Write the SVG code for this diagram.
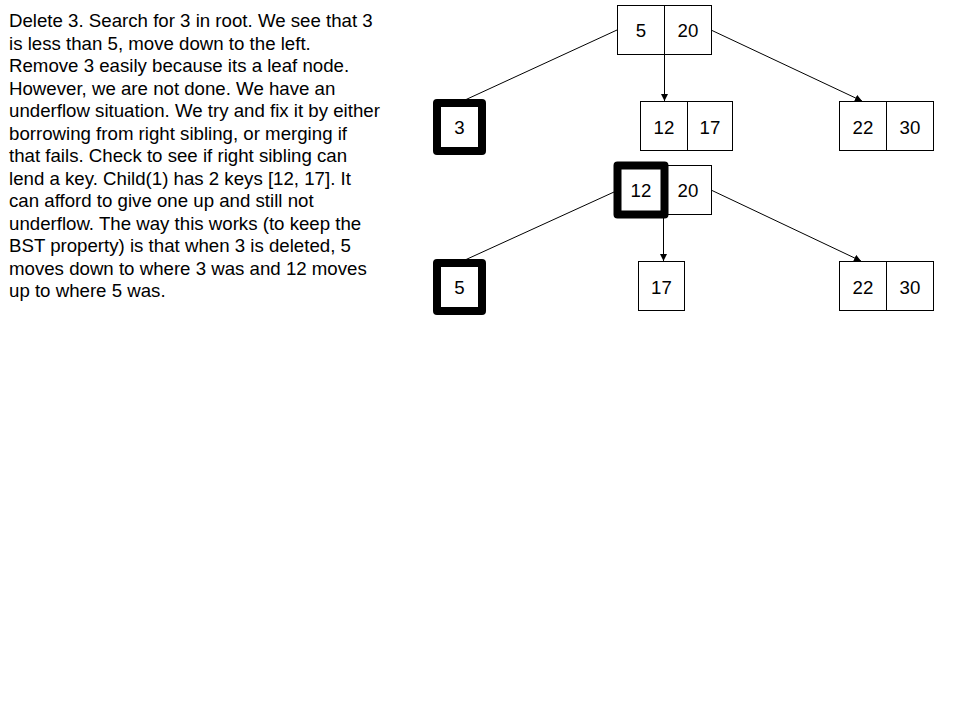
<svg xmlns="http://www.w3.org/2000/svg" width="960" height="720" viewBox="0 0 960 720">
<style>
.box{fill:#fff;stroke:#000;stroke-width:1}
.thick{fill:none;stroke:#000;stroke-width:8;stroke-linejoin:round}
.num{font-family:"Liberation Sans",Arial,sans-serif;font-size:18.67px;fill:#000;text-anchor:middle;dominant-baseline:central}
.txt{font-family:"Liberation Sans",Arial,sans-serif;font-size:18.67px;fill:#000}
.edge{stroke:#000;stroke-width:1;fill:none}
</style>
<defs>
<marker id="arr" markerWidth="8" markerHeight="8" refX="7" refY="3.5" orient="auto" markerUnits="userSpaceOnUse">
<path d="M0,0 L7,3.5 L0,7 Z" fill="#000"/>
</marker>
</defs>
<rect width="960" height="720" fill="#fff"/>
<text class="txt" x="9" y="27">
<tspan x="9" y="27">Delete 3. Search for 3 in root. We see that 3</tspan>
<tspan x="9" y="49.5">is less than 5, move down to the left.</tspan>
<tspan x="9" y="72">Remove 3 easily because its a leaf node.</tspan>
<tspan x="9" y="94.5">However, we are not done. We have an</tspan>
<tspan x="9" y="117">underflow situation. We try and fix it by either</tspan>
<tspan x="9" y="139.5">borrowing from right sibling, or merging if</tspan>
<tspan x="9" y="162">that fails. Check to see if right sibling can</tspan>
<tspan x="9" y="184.5">lend a key. Child(1) has 2 keys [12, 17]. It</tspan>
<tspan x="9" y="207">can afford to give one up and still not</tspan>
<tspan x="9" y="229.5">underflow. The way this works (to keep the</tspan>
<tspan x="9" y="252">BST property) is that when 3 is deleted, 5</tspan>
<tspan x="9" y="274.5">moves down to where 3 was and 12 moves</tspan>
<tspan x="9" y="297">up to where 5 was.</tspan>
</text>
<g id="connectors">
<line class="edge" x1="617" y1="30" x2="465" y2="100"/>
<line class="edge" x1="664.5" y1="54" x2="664.5" y2="101" marker-end="url(#arr)"/>
<line class="edge" x1="711" y1="30" x2="862" y2="101" marker-end="url(#arr)"/>
<line class="edge" x1="614" y1="192" x2="465" y2="260"/>
<line class="edge" x1="663.5" y1="214" x2="663.5" y2="261" marker-end="url(#arr)"/>
<line class="edge" x1="711" y1="190" x2="861" y2="261" marker-end="url(#arr)"/>
</g>
<g id="root1">
<rect class="box" x="617.5" y="5.5" width="94" height="49"/>
<line class="edge" x1="664.5" y1="5.5" x2="664.5" y2="54.5"/>
<text class="num" x="641" y="30">5</text>
<text class="num" x="688" y="30">20</text>
</g>
<g id="leaf3">
<rect class="box" x="437" y="103" width="45" height="48"/>
<rect class="thick" x="437" y="103" width="45" height="48"/>
<text class="num" x="459.5" y="127">3</text>
</g>
<g id="node12_17">
<rect class="box" x="640.5" y="101.5" width="92" height="49"/>
<line class="edge" x1="687.5" y1="101.5" x2="687.5" y2="150.5"/>
<text class="num" x="664" y="127">12</text>
<text class="num" x="710" y="127">17</text>
</g>
<g id="node22_30a">
<rect class="box" x="839.5" y="101.5" width="94" height="49"/>
<line class="edge" x1="886.5" y1="101.5" x2="886.5" y2="150.5"/>
<text class="num" x="863" y="127">22</text>
<text class="num" x="910" y="127">30</text>
</g>
<g id="root2">
<rect class="box" x="617.5" y="165.5" width="94" height="49"/>
<text class="num" x="688" y="190">20</text>
<rect class="thick" x="617.5" y="165.5" width="47" height="49"/>
<text class="num" x="641" y="190">12</text>
</g>
<g id="leaf5">
<rect class="box" x="437" y="263" width="45" height="48"/>
<rect class="thick" x="437" y="263" width="45" height="48"/>
<text class="num" x="459.5" y="287">5</text>
</g>
<g id="node17">
<rect class="box" x="638.5" y="261.5" width="46" height="49"/>
<text class="num" x="661.5" y="287">17</text>
</g>
<g id="node22_30b">
<rect class="box" x="839.5" y="261.5" width="94" height="49"/>
<line class="edge" x1="886.5" y1="261.5" x2="886.5" y2="310.5"/>
<text class="num" x="863" y="287">22</text>
<text class="num" x="910" y="287">30</text>
</g>
</svg>
